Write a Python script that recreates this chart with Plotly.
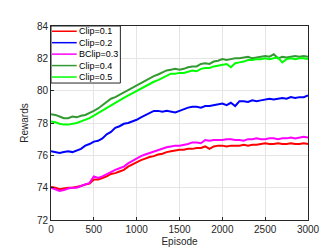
import plotly.graph_objects as go

episodes = list(range(0, 3001, 50))

clip_01 = [74.05, 74.0, 73.9, 73.95, 74.0, 74.0, 74.05, 74.1, 74.2, 74.25,
           74.5, 74.5, 74.6, 74.7, 74.85, 74.9, 75.0, 75.1, 75.3, 75.45,
           75.6, 75.7, 75.8, 75.9, 75.95, 76.05, 76.1, 76.2, 76.25, 76.3,
           76.35, 76.35, 76.4, 76.4, 76.45, 76.45, 76.55, 76.4, 76.55, 76.6,
           76.6, 76.55, 76.6, 76.6, 76.6, 76.65, 76.6, 76.65, 76.65, 76.7,
           76.75, 76.7, 76.7, 76.75, 76.7, 76.7, 76.75, 76.7, 76.7, 76.75, 76.7]

clip_02 = [76.25, 76.2, 76.15, 76.2, 76.25, 76.2, 76.3, 76.4, 76.6, 76.7,
           76.85, 76.9, 77.05, 77.3, 77.45, 77.7, 77.8, 77.95, 78.0, 78.1,
           78.2, 78.35, 78.5, 78.6, 78.75, 78.75, 78.7, 78.75, 78.7, 78.65,
           78.75, 78.85, 78.95, 79.0, 79.0, 78.95, 79.05, 79.05, 79.1, 79.15,
           79.2, 79.1, 79.25, 79.05, 79.35, 79.35, 79.3, 79.4, 79.35, 79.4,
           79.45, 79.5, 79.45, 79.5, 79.55, 79.5, 79.6, 79.55, 79.6, 79.6, 79.7]

bclip_03 = [74.0, 73.9, 73.8, 73.85, 73.95, 74.0, 74.0, 74.1, 74.2, 74.3,
            74.7, 74.6, 74.7, 74.85, 75.0, 75.1, 75.2, 75.3, 75.5, 75.65,
            75.85, 75.95, 76.05, 76.15, 76.2, 76.3, 76.4, 76.5, 76.55, 76.6,
            76.6, 76.65, 76.7, 76.8, 76.8, 76.75, 76.95, 76.9, 76.95, 76.95,
            76.95, 77.0, 77.0, 76.95, 76.95, 76.9, 77.0, 77.0, 77.05, 77.0,
            77.0, 77.05, 77.05, 77.0, 77.05, 77.05, 77.1, 77.05, 77.1, 77.15, 77.1]

clip_04 = [78.55, 78.5, 78.4, 78.3, 78.3, 78.4, 78.35, 78.45, 78.5, 78.6,
           78.75, 78.9, 79.1, 79.35, 79.5, 79.6, 79.75, 79.9, 80.05, 80.2,
           80.3, 80.45, 80.6, 80.75, 80.9, 81.0, 81.15, 81.25, 81.3, 81.35,
           81.3, 81.35, 81.45, 81.5, 81.5, 81.65, 81.7, 81.65, 81.8, 81.85,
           81.95, 81.9, 81.95, 82.0, 82.0, 82.05, 82.1, 82.0, 82.05, 82.1,
           82.15, 82.1, 82.25, 82.0, 82.1, 82.05, 82.1, 82.15, 82.1, 82.15, 82.1]

clip_05 = [78.1, 78.05, 77.95, 77.9, 77.9, 77.95, 78.0, 78.1, 78.2, 78.3,
           78.45, 78.6, 78.8, 78.95, 79.1, 79.25, 79.4, 79.55, 79.7, 79.85,
           79.95, 80.1, 80.25, 80.4, 80.55, 80.65, 80.8, 80.95, 81.05, 81.05,
           81.1, 81.1, 81.2, 81.25, 81.2, 81.35, 81.4, 81.4, 81.5, 81.55,
           81.6, 81.65, 81.45, 81.7, 81.75, 81.8, 81.9, 81.9, 81.95, 81.95,
           82.0, 81.95, 82.0, 82.05, 81.75, 81.95, 82.0, 81.95, 82.0, 82.0, 81.95]

names = ["Clip=0.1", "Clip=0.2", "BClip=0.3", "Clip=0.4", "Clip=0.5"]
series = [clip_01, clip_02, bclip_03, clip_04, clip_05]
colors = ["#ff0000", "#0000ff", "#ff00ff", "#339933", "#00ff00"]

fig = go.Figure()
for name, ys, c in zip(names, series, colors):
    fig.add_trace(go.Scatter(x=episodes, y=ys, name=name, mode="lines",
                             line=dict(color=c, width=2), showlegend=False))

# MATLAB-style compact legend box in the upper-left corner
shapes = [dict(type="rect", xref="paper", yref="paper", x0=0, x1=0.27,
               y0=0.706, y1=1, fillcolor="white",
               line=dict(color="#262626", width=1), layer="above")]
annotations = []
row_y = [0.973, 0.914, 0.855, 0.796, 0.737]
for name, c, ry in zip(names, colors, row_y):
    shapes.append(dict(type="line", xref="paper", yref="paper",
                       x0=0.004, x1=0.1, y0=ry, y1=ry,
                       line=dict(color=c, width=1.5), layer="above"))
    annotations.append(dict(xref="paper", yref="paper", x=0.1, y=ry,
                            text=name, showarrow=False, xanchor="left",
                            yanchor="middle",
                            font=dict(size=9, color="#000000")))

axis_style = dict(showline=True, mirror=True, linecolor="#262626", linewidth=1,
                  ticks="inside", ticklen=3, tickcolor="#262626",
                  showgrid=True, gridcolor="#e5e5e5", gridwidth=1,
                  zeroline=False, tickfont=dict(size=10, color="#262626"),
                  title_font=dict(size=10, color="#262626"))

fig.update_xaxes(range=[0, 3000], dtick=500, title_text="Episode",
                 title_standoff=3, **axis_style)
fig.update_yaxes(range=[72, 84], dtick=2, title_text="Rewards",
                 title_standoff=6, **axis_style)

fig.update_layout(
    width=332, height=249,
    margin=dict(l=43, r=32, t=18, b=30),
    paper_bgcolor="white", plot_bgcolor="white",
    font=dict(family="Liberation Sans, Arial, sans-serif", color="#262626"),
    shapes=shapes, annotations=annotations,
)

fig.write_html("out.html")
